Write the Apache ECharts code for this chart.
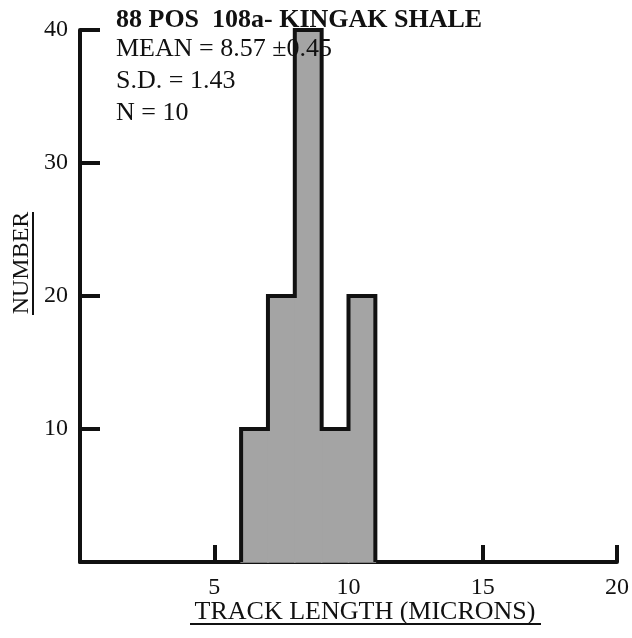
<!DOCTYPE html>
<html>
<head>
<meta charset="utf-8">
<script src="https://cdn.jsdelivr.net/npm/echarts@6/dist/echarts.min.js"></script>
<style>html,body{margin:0;padding:0;background:#fff;}#c{width:632px;height:638px;}</style>
</head>
<body>
<div id="c"></div>
<script>
// Data
const binStarts = [6, 7, 8, 9, 10];
const binEnds   = [7, 8, 9, 10, 11];
const counts    = [10, 20, 40, 10, 20];
const xTicks = [5, 10, 15, 20];
const yTicks = [10, 20, 30, 40];
const infoLines = ['MEAN = 8.57 \u00b10.45', 'S.D. = 1.43', 'N = 10'];
const sampleTitle = '88 POS  108a- KINGAK SHALE';
const xName = 'TRACK LENGTH (MICRONS)';
const yName = 'NUMBER';

const histData = binStarts.map((s, i) => [s, binEnds[i], counts[i]]);
// outline points (step)
const outline = [[binStarts[0], 0]];
binStarts.forEach((s, i) => outline.push([s, counts[i]]));
outline.push([binEnds[binEnds.length - 1], counts[counts.length - 1]]);
outline.push([binEnds[binEnds.length - 1], 0]);

const FONT = '"Liberation Serif", "DejaVu Serif", serif';
const chart = echarts.init(document.getElementById('c'), null, {renderer: 'canvas'});

const graphics = [
  {type: 'text', z: 100, left: 116, top: 7, style: {text: sampleTitle, font: 'bold 26px ' + FONT, fill: '#111'}},
];
infoLines.forEach((t, i) => {
  graphics.push({type: 'text', z: 100, left: 116, top: 36 + i * 32, style: {text: t, font: '26px ' + FONT, fill: '#111'}});
});
// x axis name with underline
graphics.push({type: 'text', z: 100, x: 365, y: 612, style: {text: xName, font: '26px ' + FONT, fill: '#111', align: 'center', verticalAlign: 'middle'}});
graphics.push({type: 'line', z: 100, shape: {x1: 190, y1: 624, x2: 541, y2: 624}, style: {stroke: '#111', lineWidth: 2}});
// y axis name rotated with underline
graphics.push({type: 'text', z: 100, x: 22, y: 263, rotation: Math.PI / 2, style: {text: yName, font: '24px ' + FONT, fill: '#111', align: 'center', verticalAlign: 'middle'}});
graphics.push({type: 'line', z: 100, shape: {x1: 33, y1: 212, x2: 33, y2: 315}, style: {stroke: '#111', lineWidth: 2}});

chart.setOption({
  animation: false,
  backgroundColor: '#fff',
  grid: {left: 80, right: 14, top: 30, bottom: 76},
  xAxis: {
    type: 'value', min: 0, max: 20, interval: 5,
    axisLine: {show: true, lineStyle: {color: '#111', width: 4}},
    axisTick: {show: true, inside: true, length: 17, lineStyle: {color: '#111', width: 4}},
    axisLabel: {margin: 14, fontFamily: FONT, fontSize: 24, color: '#111',
      formatter: v => xTicks.indexOf(v) >= 0 ? String(v) : ''},
    splitLine: {show: false}
  },
  yAxis: {
    type: 'value', min: 0, max: 40, interval: 10,
    axisLine: {show: true, lineStyle: {color: '#111', width: 4}},
    axisTick: {show: true, inside: true, length: 20, lineStyle: {color: '#111', width: 4}},
    axisLabel: {margin: 12, fontFamily: FONT, fontSize: 24, color: '#111',
      formatter: v => yTicks.indexOf(v) >= 0 ? String(v) : ''},
    splitLine: {show: false}
  },
  graphic: graphics,
  series: [
    {
      type: 'custom',
      data: histData,
      encode: {x: [0, 1], y: 2},
      renderItem: function (params, api) {
        const p0 = api.coord([api.value(0), api.value(2)]);
        const p1 = api.coord([api.value(1), 0]);
        return {type: 'rect', shape: {x: p0[0], y: p0[1], width: p1[0] - p0[0], height: p1[1] - p0[1]},
          style: {fill: '#a4a4a4', stroke: '#a4a4a4', lineWidth: 1.5}};
      },
      z: 1
    },
    {
      type: 'line',
      data: outline,
      step: 'end',
      symbol: 'none',
      lineStyle: {color: '#111', width: 4, join: 'miter'},
      z: 2
    }
  ]
});
</script>
</body>
</html>
